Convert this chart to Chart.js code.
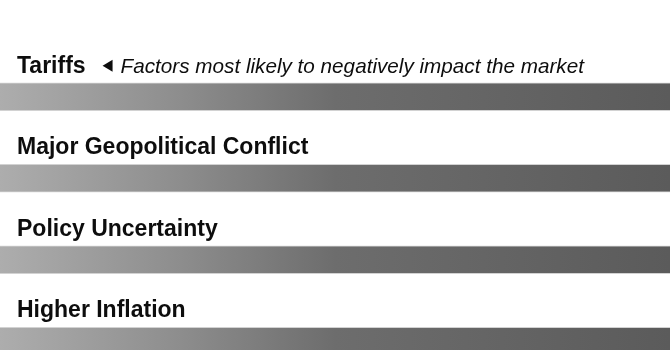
<!DOCTYPE html>
<html>
<head>
<meta charset="utf-8">
<script src="https://cdn.jsdelivr.net/npm/chart.js@4"></script>
<style>
  html, body { margin: 0; padding: 0; background: #fff; overflow: hidden; }
  #wrap { width: 670px; height: 400px; position: relative; }
</style>
</head>
<body>
<div id="wrap"><canvas id="factorChart"></canvas></div>
<script>
// Factors ranked top to bottom
const factors = ['Tariffs', 'Major Geopolitical Conflict', 'Policy Uncertainty', 'Higher Inflation'];
const impact = [100, 100, 100, 100];
const scaleMax = 100;
const note = 'Factors most likely to negatively impact the market';

// Category names sit above each bar, the note follows the first one
const barLabels = {
    id: 'barLabels',
    afterDatasetsDraw(chart) {
        const ctx = chart.ctx;
        const meta = chart.getDatasetMeta(0);
        ctx.save();
        ctx.textBaseline = 'alphabetic';
        ctx.fillStyle = '#0d0d0d';
        meta.data.forEach((bar, i) => {
            const top = bar.y - bar.height / 2;
            ctx.font = 'bold 23px "Liberation Sans", Arial, sans-serif';
            ctx.fillText(factors[i], 17, top - 10);
            if (i === 0) {
                const w = ctx.measureText(factors[i]).width;
                const x = 17 + w + 17;
                const y = top - 17;
                ctx.beginPath();
                ctx.moveTo(x, y);
                ctx.lineTo(x + 10, y - 6);
                ctx.lineTo(x + 10, y + 6);
                ctx.closePath();
                ctx.fill();
                ctx.font = 'italic 20.7px "Liberation Sans", Arial, sans-serif';
                ctx.fillText(note, x + 18, top - 10);
            }
        });
        ctx.restore();
    }
};

function barGradient(context) {
    const area = context.chart.chartArea;
    if (!area) return '#808080';
    const g = context.chart.ctx.createLinearGradient(area.left, 0, area.right, 0);
    g.addColorStop(0, '#adadad');
    g.addColorStop(0.27, '#8d8d8d');
    g.addColorStop(0.5, '#6d6d6d');
    g.addColorStop(1, '#5b5b5b');
    return g;
}

const ctx = document.getElementById('factorChart').getContext('2d');
new Chart(ctx, {
    type: 'bar',
    data: {
        labels: factors,
        datasets: [{
            data: impact,
            backgroundColor: barGradient,
            borderColor: '#d2d2d2',
            borderWidth: { top: 1, bottom: 1, left: 0, right: 0 },
            borderSkipped: false,
            barThickness: 28
        }]
    },
    plugins: [barLabels],
    options: {
        indexAxis: 'y',
        responsive: true,
        maintainAspectRatio: false,
        animation: false,
        layout: { padding: { top: 56, bottom: 18, left: 0, right: 0 } },
        plugins: { legend: { display: false }, tooltip: { enabled: false } },
        scales: {
            x: { display: false, min: 0, max: scaleMax },
            y: { display: false }
        }
    }
});
</script>
</body>
</html>
